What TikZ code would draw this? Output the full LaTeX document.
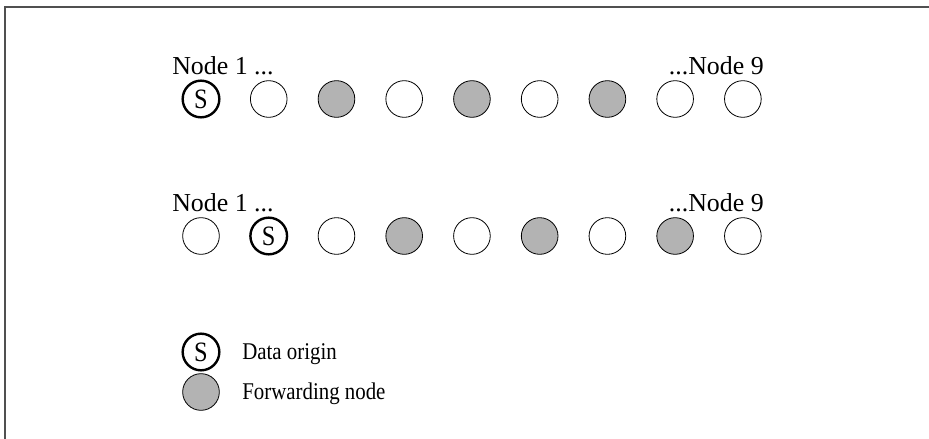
\documentclass[tikz,border=0pt]{standalone}
\usepackage{fontspec}
\setmainfont{Liberation Serif}
\newfontfamily\legendfont[FakeStretch=0.87]{Liberation Serif}
\usetikzlibrary{positioning}
\definecolor{fwdgray}{RGB}{179,179,179}
\definecolor{framegray}{RGB}{80,80,80}

\tikzset{
idle/.style={circle,draw,line width=0.6pt,minimum size=27.5pt,inner sep=0pt},
fwd/.style={idle,fill=fwdgray},
src/.style={idle,line width=1.8pt,font=\legendfont\fontsize{21}{22}\selectfont},
txt/.style={font=\legendfont\fontsize{18}{20}\selectfont,inner sep=0pt},
rowtxt/.style={font=\fontsize{19.4}{22}\selectfont,inner sep=0pt}
}

\begin{document}
\begin{tikzpicture}[x=0.75pt,y=-0.75pt,node distance=50.8pt,on grid]
\useasboundingbox (0,0) rectangle (929,439);
\draw[framegray,line width=1.2pt] (5,439) -- (5,7) -- (929,7);
% first row
\node[rowtxt,anchor=base west] (la1) at (172,74) {Node 1 ...};
\node[rowtxt,anchor=base east] (la9) at (764,74) {...Node 9};
\node[src] (a1) at (201,99) {S};
\node[idle,right=of a1] (a2) {};
\node[fwd,right=of a2] (a3) {};
\node[idle,right=of a3] (a4) {};
\node[fwd,right=of a4] (a5) {};
\node[idle,right=of a5] (a6) {};
\node[fwd,right=of a6] (a7) {};
\node[idle,right=of a7] (a8) {};
\node[idle,right=of a8] (a9) {};
% second row
\node[rowtxt,anchor=base west] (lb1) at (172,211) {Node 1 ...};
\node[rowtxt,anchor=base east] (lb9) at (764,211) {...Node 9};
\node[idle] (b1) at (201,236) {};
\node[src,right=of b1] (b2) {S};
\node[idle,right=of b2] (b3) {};
\node[fwd,right=of b3] (b4) {};
\node[idle,right=of b4] (b5) {};
\node[fwd,right=of b5] (b6) {};
\node[idle,right=of b6] (b7) {};
\node[fwd,right=of b7] (b8) {};
\node[idle,right=of b8] (b9) {};
% legend
\node[src] (ks) at (201,352) {S};
\node[fwd,below=30pt of ks] (kf) {};
\node[txt,anchor=base west] (ts) at (242,359) {Data origin};
\node[txt,anchor=base west] (tf) at (242,399) {Forwarding node};
\end{tikzpicture}
\end{document}
